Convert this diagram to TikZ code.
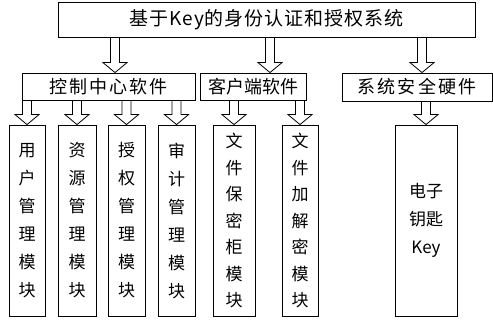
\documentclass[tikz,border=0pt]{standalone}
\usepackage{fontspec}
\newfontfamily\cjk{Noto Sans CJK SC}
\newfontfamily\cjkwide{Noto Sans CJK SC}[LetterSpace=12]
\newfontfamily\cjkmid{Noto Sans CJK SC}[LetterSpace=5]
\usetikzlibrary{calc}
\tikzset{
  box/.style={draw, line width=0.8pt, inner sep=0pt, align=center},
  headbox/.style={box, font=\cjk\fontsize{18}{20}\selectfont},
  modbox/.style={box, minimum height=191pt, font=\cjk\fontsize{17}{28}\selectfont},
  filebox/.style={box, minimum height=191pt, font=\cjk\fontsize{17}{26.5}\selectfont},
  fat/.style={line width=0.8pt, line join=miter, to path={let \p1=(\tikztostart), \p2=(\tikztotarget) in
    (\x1-4.5pt,\y1) -- (\x1-4.5pt,\y2+10pt) -- (\x1-12pt,\y2+10pt) -- (\x2,\y2)
    -- (\x1+12pt,\y2+10pt) -- (\x1+4.5pt,\y2+10pt) -- (\x1+4.5pt,\y1)}},
}
\begin{document}
\begin{tikzpicture}[x=1pt, y=-1pt]
  \useasboundingbox (0,0) rectangle (493,320);
  % top level
  \node[box, minimum width=417pt, minimum height=35pt, font=\cjkmid\fontsize{19}{21}\selectfont]
    (sys) at (266.5,19.5) {基于Key的身份认证和授权系统};
  % second level
  \node[headbox, minimum width=173pt, minimum height=27pt, font=\cjkwide\fontsize{18}{20}\selectfont]
    (ctrl) at (108.5,86.5) {控制中心软件};
  \node[headbox, minimum width=106pt, minimum height=27pt] (client) at (253,86.5) {客户端软件};
  \node[headbox, minimum width=150pt, minimum height=28pt, font=\cjkwide\fontsize{18}{20}\selectfont]
    (hw) at (417,87) {系统安全硬件};
  % modules
  \node[modbox, minimum width=36pt] (user) at (27,220.5) {用\\户\\管\\理\\模\\块};
  \node[modbox, minimum width=38pt] (res) at (77,220.5) {资\\源\\管\\理\\模\\块};
  \node[modbox, minimum width=37pt] (auth) at (126.5,220.5) {授\\权\\管\\理\\模\\块};
  \node[modbox, minimum width=37pt] (audit) at (176.5,220.5) {审\\计\\管\\理\\模\\块};
  \node[filebox, minimum width=42pt] (safe) at (234,220.5) {文\\件\\保\\密\\柜\\模\\块};
  \node[filebox, minimum width=36pt] (crypt) at (300,220.5) {文\\件\\加\\解\\密\\模\\块};
  \node[box, minimum width=62pt, minimum height=191pt, font=\cjk\fontsize{17}{28}\selectfont]
    (key) at (426,220.5) {电子\\钥匙\\Key};
  % arrow feet on the second level
  \coordinate (in1) at ([xshift=6.5pt]ctrl.north);
  \coordinate (in2) at ([xshift=17pt]client.north);
  \coordinate (in3) at ([xshift=5pt]hw.north);
  \begin{scope}[fat]
    \draw (sys.south -| in1) to (in1);
    \draw (sys.south -| in2) to (in2);
    \draw (sys.south -| in3) to (in3);
    \draw (ctrl.south -| user.north) to (user.north);
    \draw (ctrl.south -| res.north) to (res.north);
    \draw (ctrl.south -| auth.north) to (auth.north);
    \draw (ctrl.south -| audit.north) to (audit.north);
    \draw (client.south -| safe.north) to (safe.north);
    \draw (client.south -| crypt.north) to (crypt.north);
    \draw (hw.south -| key.north) to (key.north);
  \end{scope}
\end{tikzpicture}
\end{document}
